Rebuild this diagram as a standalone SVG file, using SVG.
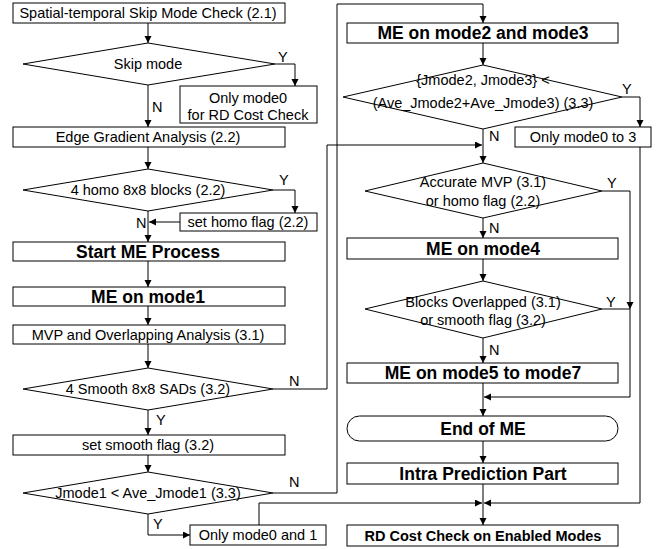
<svg xmlns="http://www.w3.org/2000/svg" width="667" height="549" viewBox="0 0 667 549">
<style>
.b{fill:#fff;stroke:#000;stroke-width:1}
.t{font-family:"Liberation Sans",Arial,sans-serif;font-size:14.5px;text-anchor:middle;fill:#000}
.tb{font-family:"Liberation Sans",Arial,sans-serif;font-size:17.5px;font-weight:bold;text-anchor:middle;fill:#000}
.l{font-family:"Liberation Sans",Arial,sans-serif;font-size:14.5px;fill:#000}
.c{fill:none;stroke:#000;stroke-width:1}
.a{marker-end:url(#ah)}
</style>
<defs>
<marker id="ah" markerWidth="8" markerHeight="8" refX="7" refY="3.5" orient="auto" markerUnits="userSpaceOnUse">
<path d="M0,0 L7,3.5 L0,7 Z" fill="#000"/>
</marker>
</defs>
<rect width="667" height="549" fill="#fff"/>
<g id="connectors">
<path class="c a" d="M148,23 V43"/>
<path class="c a" d="M275,64 H295 V86"/>
<path class="c a" d="M148,85 V127"/>
<path class="c a" d="M148,147 V169"/>
<path class="c a" d="M273,190 H295 V213"/>
<path class="c a" d="M180,222 H149"/>
<path class="c a" d="M148,211 V242"/>
<path class="c a" d="M148,261 V287"/>
<path class="c a" d="M148,306 V325"/>
<path class="c a" d="M148,344 V368"/>
<path class="c a" d="M273,389 H327 V145 H482"/>
<path class="c a" d="M148,410 V435"/>
<path class="c a" d="M148,455 V472"/>
<path class="c a" d="M273,493 H337 V4 H483 V23"/>
<path class="c a" d="M148,514 V535 H190"/>
<path class="c a" d="M259,525 V503 H482"/>
<path class="c a" d="M483,43 V65"/>
<path class="c a" d="M622,97 H640 V127"/>
<path class="c a" d="M640,147 V503 H484"/>
<path class="c a" d="M483,129 V163"/>
<path class="c a" d="M602,191 H630 V309"/>
<path class="c a" d="M483,218 V238"/>
<path class="c a" d="M483,259 V281"/>
<path class="c a" d="M602,309 H630 V397 H484"/>
<path class="c a" d="M483,338 V363"/>
<path class="c a" d="M483,383 V416"/>
<path class="c a" d="M483,441 V463"/>
<path class="c a" d="M483,484 V525"/>
<text class="l" x="278" y="62">Y</text>
<text class="l" x="152" y="112">N</text>
<text class="l" x="279" y="185">Y</text>
<text class="l" x="136" y="228">N</text>
<text class="l" x="289" y="386">N</text>
<text class="l" x="156" y="425">Y</text>
<text class="l" x="289" y="487">N</text>
<text class="l" x="153" y="529">Y</text>
<text class="l" x="622" y="94">Y</text>
<text class="l" x="489" y="141">N</text>
<text class="l" x="607" y="188">Y</text>
<text class="l" x="489" y="233">N</text>
<text class="l" x="606" y="307">Y</text>
<text class="l" x="489" y="355">N</text>
</g>
<g id="n1"><rect class="b" x="13" y="3" width="272" height="20"/><text class="t" x="148" y="18">Spatial-temporal Skip Mode Check (2.1)</text></g>
<g id="n2"><polygon class="b" points="148,43 275,64 148,85 23,64"/><text class="t" x="148" y="69">Skip mode</text></g>
<g id="n3"><rect class="b" x="180" y="86" width="137" height="37"/><text class="t" x="248" y="103">Only mode0</text><text class="t" x="248" y="120">for RD Cost Check</text></g>
<g id="n4"><rect class="b" x="13" y="127" width="272" height="20"/><text class="t" x="148" y="142">Edge Gradient Analysis (2.2)</text></g>
<g id="n5"><polygon class="b" points="148,169 273,190 148,211 23,190"/><text class="t" x="148" y="195">4 homo 8x8 blocks (2.2)</text></g>
<g id="n6"><rect class="b" x="180" y="213" width="137" height="18"/><text class="t" x="248" y="227">set homo flag (2.2)</text></g>
<g id="n7"><rect class="b" x="13" y="242" width="272" height="19"/><text class="tb" x="148" y="258">Start ME Process</text></g>
<g id="n8"><rect class="b" x="13" y="287" width="272" height="19"/><text class="tb" x="148" y="303">ME on mode1</text></g>
<g id="n9"><rect class="b" x="13" y="325" width="272" height="19"/><text class="t" x="148" y="340">MVP and Overlapping Analysis (3.1)</text></g>
<g id="n10"><polygon class="b" points="148,368 273,389 148,410 23,389"/><text class="t" x="148" y="394">4 Smooth 8x8 SADs (3.2)</text></g>
<g id="n11"><rect class="b" x="13" y="435" width="272" height="20"/><text class="t" x="148" y="450">set smooth flag (3.2)</text></g>
<g id="n12"><polygon class="b" points="148,472 273,493 148,514 23,493"/><text class="t" x="148" y="498">Jmode1 &lt; Ave_Jmode1 (3.3)</text></g>
<g id="n13"><rect class="b" x="190" y="525" width="136" height="20"/><text class="t" x="258" y="540">Only mode0 and 1</text></g>
<g id="n14"><rect class="b" x="347" y="23" width="271" height="20"/><text class="tb" x="483" y="39">ME on mode2 and mode3</text></g>
<g id="n15"><polygon class="b" points="483,65 622,97 483,129 343,97"/><text class="t" x="483" y="85">{Jmode2, Jmode3} &lt;</text><text class="t" x="483" y="108">(Ave_Jmode2+Ave_Jmode3) (3.3)</text></g>
<g id="n16"><rect class="b" x="515" y="127" width="136" height="20"/><text class="t" x="583" y="142">Only mode0 to 3</text></g>
<g id="n17"><polygon class="b" points="483,163 602,191 483,218 365,191"/><text class="t" x="483" y="187">Accurate MVP (3.1)</text><text class="t" x="483" y="206">or homo flag (2.2)</text></g>
<g id="n18"><rect class="b" x="347" y="238" width="271" height="21"/><text class="tb" x="483" y="255">ME on mode4</text></g>
<g id="n19"><polygon class="b" points="483,281 602,309 483,338 365,309"/><text class="t" x="483" y="307">Blocks Overlapped (3.1)</text><text class="t" x="483" y="325">or smooth flag (3.2)</text></g>
<g id="n20"><rect class="b" x="347" y="363" width="271" height="20"/><text class="tb" x="483" y="379">ME on mode5 to mode7</text></g>
<g id="n21"><rect class="b" x="347" y="416" width="271" height="25" rx="12.5" ry="12.5"/><text class="tb" x="483" y="435">End of ME</text></g>
<g id="n22"><rect class="b" x="347" y="463" width="271" height="21"/><text class="tb" x="483" y="480">Intra Prediction Part</text></g>
<g id="n23"><rect class="b" x="347" y="525" width="271" height="21"/><text class="tb" x="483" y="541" style="font-size:14.5px">RD Cost Check on Enabled Modes</text></g>
</svg>
